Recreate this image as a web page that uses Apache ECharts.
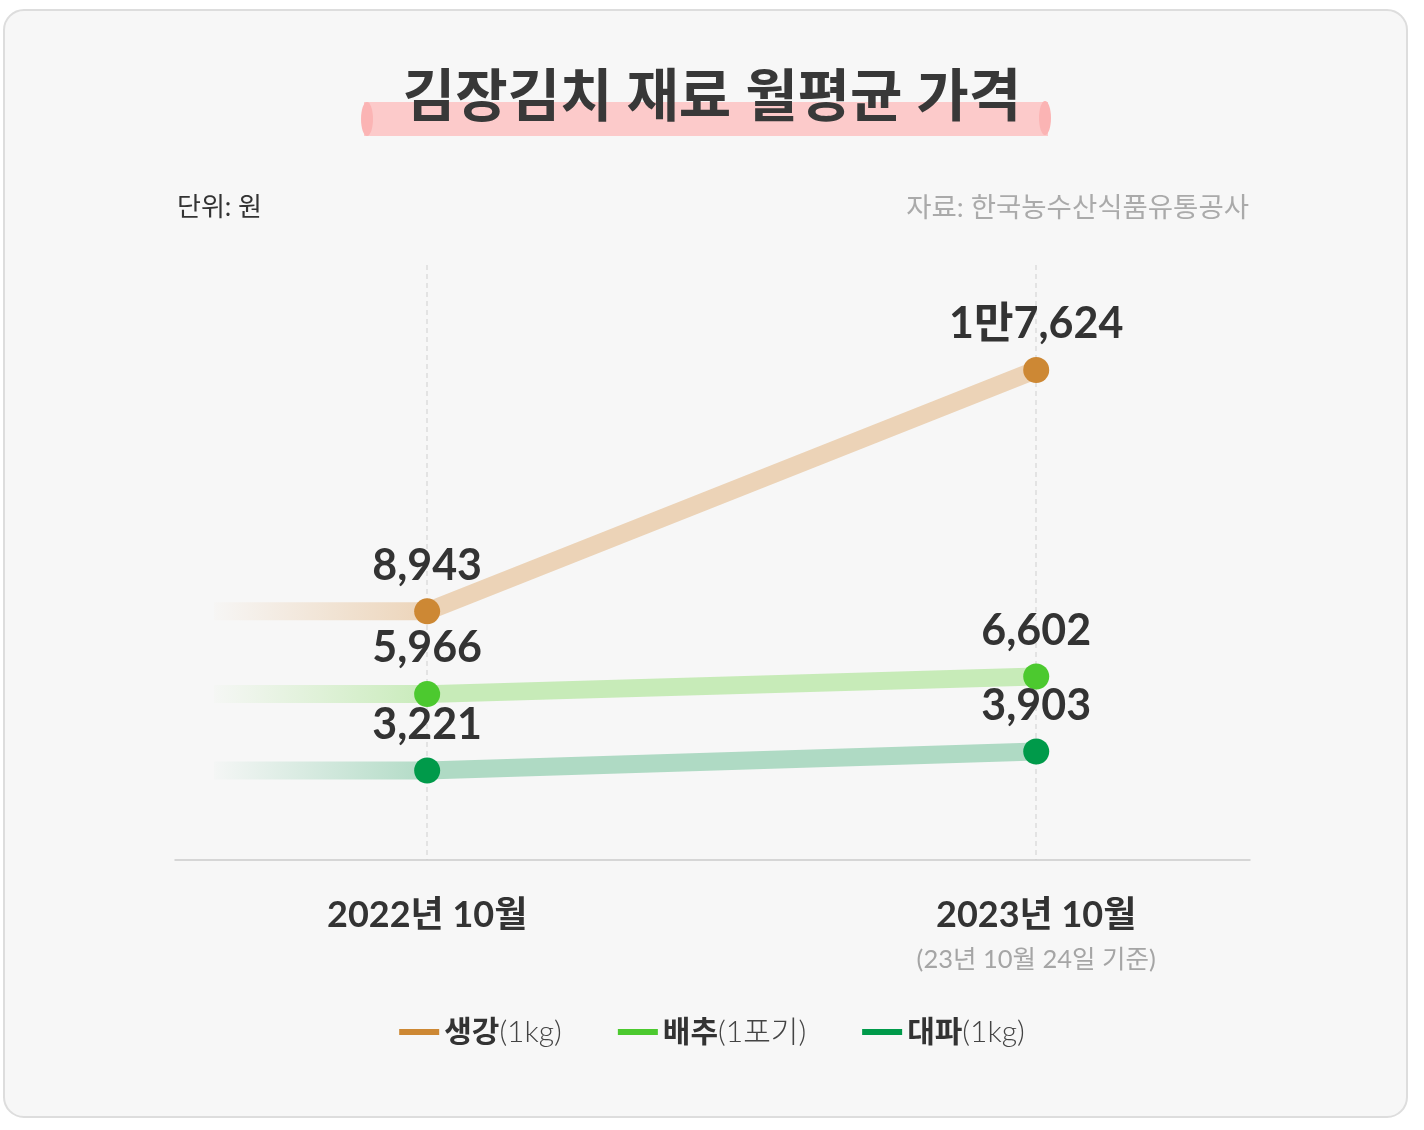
<!DOCTYPE html>
<html>
<head>
<meta charset="utf-8">
<script src="https://cdn.jsdelivr.net/npm/echarts@6/dist/echarts.min.js"></script>
<style>
html,body{margin:0;padding:0;background:#ffffff;}
#chart{width:1424px;height:1130px;}
</style>
</head>
<body>
<div id="chart"></div>
<script>
// ---- data ----
const categories = ['2022년 10월', '2023년 10월'];
const categoryNotes = ['', '(23년 10월 24일 기준)'];
const seriesNames = ['생강', '배추', '대파'];
const seriesUnits = ['(1kg)', '(1포기)', '(1kg)'];
const gingerValues = [8943, 17624];
const cabbageValues = [5966, 6602];
const greenOnionValues = [3221, 3903];

const FONT = "Lato, 'Noto Sans CJK KR', 'Noto Sans', sans-serif";
const pointColors = ['#CD8834', '#4CC92F', '#009A4A'];
const lineColors = ['#ECD3B7', '#C7EBB8', '#AFDAC4'];
const lineRGB = [[236,211,183],[199,235,184],[175,218,196]];

function fmt(v) {
  if (v >= 10000) {
    return Math.floor(v / 10000) + '만' + (v % 10000).toLocaleString('en-US');
  }
  return v.toLocaleString('en-US');
}

const allValues = [gingerValues, cabbageValues, greenOnionValues];
const series = [];
allValues.forEach(function (vals, i) {
  const rgb = lineRGB[i].join(',');
  // faded lead-in, at the first value
  series.push({
    type: 'line',
    name: seriesNames[i] + '_lead',
    silent: true,
    symbol: 'none',
    z: 2,
    data: [[-0.35, vals[0]], [0, vals[0]]],
    lineStyle: {
      width: 18,
      cap: 'butt',
      color: {
        type: 'linear', x: 0, y: 0, x2: 1, y2: 0,
        colorStops: [
          { offset: 0, color: 'rgba(' + rgb + ',0)' },
          { offset: 1, color: 'rgba(' + rgb + ',1)' }
        ]
      }
    }
  });
  series.push({
    type: 'line',
    name: seriesNames[i],
    z: 3,
    data: vals.map(function (v, k) { return [k, v]; }),
    symbol: 'circle',
    symbolSize: 26,
    itemStyle: { color: pointColors[i] },
    lineStyle: { width: 18, color: lineColors[i], cap: 'butt' },
    label: {
      show: true,
      position: 'top',
      distance: 11,
      formatter: function (p) { return fmt(p.value[1]); },
      fontFamily: FONT,
      fontSize: 43,
      fontWeight: 'bold',
      color: '#333333'
    }
  });
});

const chart = echarts.init(document.getElementById('chart'));
chart.setOption({
  backgroundColor: '#ffffff',
  animation: false,
  graphic: [
    {
      type: 'rect', z: 0, silent: true,
      shape: { x: 4, y: 10, width: 1403, height: 1107, r: 20 },
      style: { fill: '#F7F7F7', stroke: '#DDDDDD', lineWidth: 2 }
    },
    {
      type: 'rect', z: 1, silent: true,
      shape: { x: 364, y: 102, width: 684, height: 34 },
      style: { fill: '#FCCACA' }
    },
    {
      type: 'ellipse', z: 1, silent: true,
      shape: { cx: 367, cy: 119, rx: 6, ry: 17 },
      style: { fill: '#FBB4B4' }
    },
    {
      type: 'ellipse', z: 1, silent: true,
      shape: { cx: 1045, cy: 118, rx: 6, ry: 17 },
      style: { fill: '#FBB4B4' }
    }
  ],
  title: [
    {
      text: '김장김치 재료 월평균 가격',
      left: 'center',
      top: 64,
      textStyle: { fontFamily: FONT, fontSize: 57, fontWeight: 'bold', color: '#383838' }
    },
    {
      text: '단위: 원',
      left: 172,
      top: 190,
      textStyle: { fontFamily: FONT, fontSize: 26, fontWeight: 'normal', color: '#333333' }
    },
    {
      text: '자료: 한국농수산식품유통공사',
      right: 170,
      top: 189,
      textStyle: { fontFamily: FONT, fontSize: 27.5, fontWeight: 'normal', color: '#AAAAAA' }
    }
  ],
  grid: { left: 175, right: 174, top: 265, bottom: 270, containLabel: false },
  xAxis: {
    type: 'value',
    min: -0.414,
    max: 1.351,
    axisLine: { show: true, onZero: false, lineStyle: { color: '#CCCCCC', width: 1.5 } },
    axisTick: { show: false, customValues: [0, 1] },
    splitLine: { show: true, lineStyle: { color: '#DDDDDD', type: [5, 4], width: 1.5 } },
    axisLabel: {
      customValues: [0, 1],
      margin: 34,
      formatter: function (v) {
        const k = Math.round(v);
        let s = '{a|' + categories[k] + '}';
        if (categoryNotes[k]) s += '\n{b|' + categoryNotes[k] + '}';
        return s;
      },
      rich: {
        a: { fontFamily: FONT, fontSize: 36, fontWeight: 'bold', color: '#333333', lineHeight: 42 },
        b: { fontFamily: FONT, fontSize: 25.5, color: '#A5A5A5', lineHeight: 48 }
      }
    }
  },
  yAxis: {
    type: 'value',
    min: 0,
    max: 21400,
    show: false,
    splitLine: { show: false }
  },
  legend: {
    top: 1012,
    left: 'center',
    icon: 'rect',
    itemWidth: 40,
    itemHeight: 6,
    itemGap: 56,
    data: seriesNames.map(function (n, i) {
      return { name: n, itemStyle: { color: pointColors[i] } };
    }),
    formatter: function (name) {
      const i = seriesNames.indexOf(name);
      return '{n|' + name + '}{u|' + seriesUnits[i] + '}';
    },
    textStyle: {
      rich: {
        n: { fontFamily: FONT, fontSize: 30, fontWeight: 'bold', color: '#333333' },
        u: { fontFamily: FONT, fontSize: 30, fontWeight: 300, color: '#444444' }
      }
    }
  },
  series: series
});
</script>
</body>
</html>
